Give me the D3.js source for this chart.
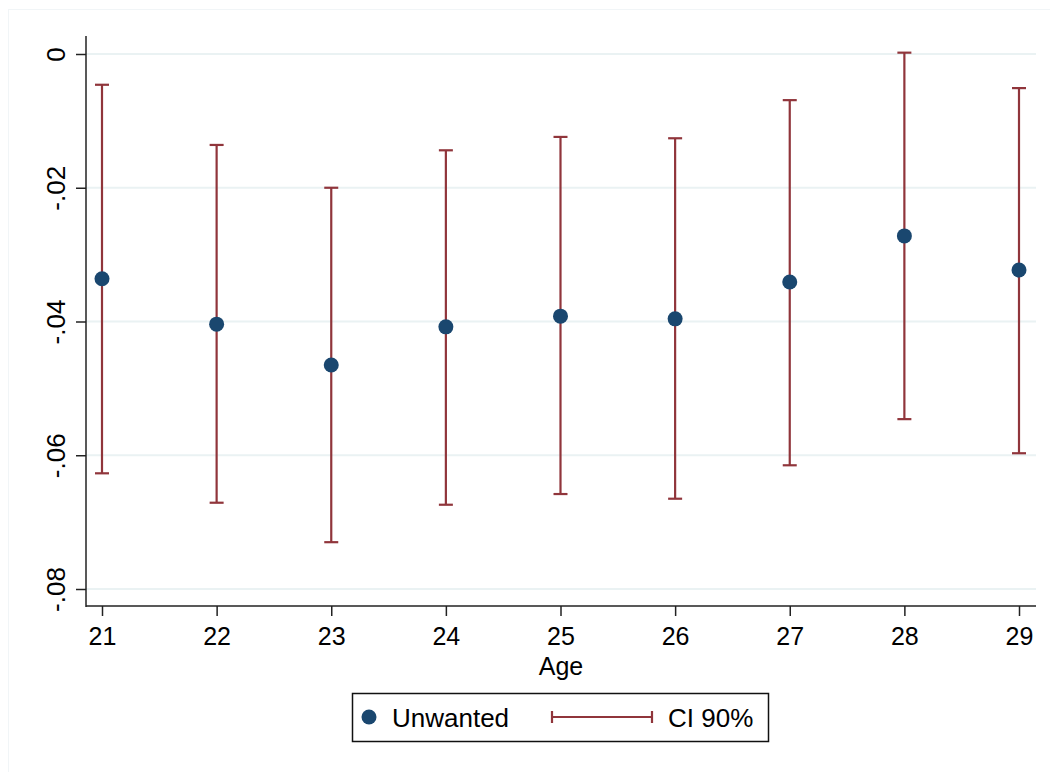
<!DOCTYPE html>
<html><head><meta charset="utf-8">
<script src="https://cdn.jsdelivr.net/npm/d3@7"></script>
<style>body{margin:0;background:#fff;}svg{display:block;font-family:Arial,"Liberation Sans",sans-serif;}</style>
</head><body>
<svg id="c" width="1050" height="772"></svg>
<script>
const ages = [21,22,23,24,25,26,27,28,29];
const estimate = [-0.0336,-0.0404,-0.0465,-0.0408,-0.0392,-0.0396,-0.0341,-0.0272,-0.0323];
const ciLow = [-0.0627,-0.0671,-0.0730,-0.0674,-0.0658,-0.0665,-0.0615,-0.0546,-0.0597];
const ciHigh = [-0.0046,-0.0136,-0.0200,-0.0144,-0.0124,-0.0126,-0.0069,0.0002,-0.0051];
const yTicks = [0,-0.02,-0.04,-0.06,-0.08];
const yTickLabels = ["0","-.02","-.04","-.06","-.08"];
const legendLabels = ["Unwanted","CI 90%"];

const svg = d3.select("#c");
const navy = "#1a476f", red = "#90353b", grid = "#eaf2f3";
const x = d3.scaleLinear().domain([21,29]).range([102,1019]);
const y = d3.scaleLinear().domain([0,-0.08]).range([54,589]);
const L = 86, R = 1036, T = 36, B = 606;

// faint outer frame (top and left edges visible)
svg.append("line").attr("x1",8).attr("x2",1050).attr("y1",9.5).attr("y2",9.5).attr("stroke","#f1f5f7");
svg.append("line").attr("x1",8.5).attr("x2",8.5).attr("y1",9).attr("y2",772).attr("stroke","#f1f5f7");

// grid
svg.append("g").selectAll("line").data(yTicks).join("line")
  .attr("x1",L).attr("x2",R).attr("y1",d=>y(d)).attr("y2",d=>y(d))
  .attr("stroke",grid).attr("stroke-width",2);

// y axis
const yAxis = d3.axisLeft(y).tickValues(yTicks).tickSize(10).tickPadding(0)
  .tickFormat((d,i)=>yTickLabels[i]);
const gy = svg.append("g").attr("transform",`translate(${L},0)`).call(yAxis);
gy.select(".domain").remove();
gy.selectAll(".tick line").attr("stroke","#222").attr("stroke-width",1.5);
gy.selectAll(".tick text").attr("fill","#000").style("font-size","26px")
  .attr("x",0).attr("dy",0).attr("text-anchor","middle")
  .attr("transform","translate(-21,0) rotate(-90)");
svg.append("line").attr("x1",L).attr("x2",L).attr("y1",T).attr("y2",B+1)
  .attr("stroke","#222").attr("stroke-width",1.5);

// x axis
const xAxis = d3.axisBottom(x).tickValues(ages).tickSize(10).tickPadding(11).tickFormat(d3.format("d"));
const gx = svg.append("g").attr("transform",`translate(0,${B})`).call(xAxis);
gx.select(".domain").remove();
gx.selectAll(".tick line").attr("stroke","#222").attr("stroke-width",1.5);
gx.selectAll(".tick text").attr("fill","#000").style("font-size","25px");
svg.append("line").attr("x1",L).attr("x2",R).attr("y1",B).attr("y2",B)
  .attr("stroke","#222").attr("stroke-width",1.5);

svg.append("text").attr("x",561).attr("y",675).attr("text-anchor","middle")
  .style("font-size","25px").text("Age");

// CIs
const ci = svg.append("g").attr("stroke",red).attr("stroke-width",2.2);
ages.forEach((a,i)=>{
  ci.append("line").attr("x1",x(a)).attr("x2",x(a)).attr("y1",y(ciHigh[i])).attr("y2",y(ciLow[i]));
  ci.append("line").attr("x1",x(a)-7).attr("x2",x(a)+7).attr("y1",y(ciHigh[i])).attr("y2",y(ciHigh[i]));
  ci.append("line").attr("x1",x(a)-7).attr("x2",x(a)+7).attr("y1",y(ciLow[i])).attr("y2",y(ciLow[i]));
});
svg.append("g").selectAll("circle").data(ages).join("circle")
  .attr("cx",d=>x(d)).attr("cy",(d,i)=>y(estimate[i])).attr("r",7.5).attr("fill",navy);

// legend
const lg = svg.append("g");
lg.append("rect").attr("x",352.5).attr("y",693.5).attr("width",416).attr("height",48)
  .attr("fill","#fff").attr("stroke","#111").attr("stroke-width",1.5);
lg.append("circle").attr("cx",369).attr("cy",717).attr("r",7.5).attr("fill",navy);
lg.append("text").attr("x",392).attr("y",727).style("font-size","26px").text(legendLabels[0]);
lg.append("line").attr("x1",552).attr("x2",652).attr("y1",717).attr("y2",717).attr("stroke",red).attr("stroke-width",2.2);
lg.append("line").attr("x1",552).attr("x2",552).attr("y1",711).attr("y2",723).attr("stroke",red).attr("stroke-width",2.2);
lg.append("line").attr("x1",652).attr("x2",652).attr("y1",711).attr("y2",723).attr("stroke",red).attr("stroke-width",2.2);
lg.append("text").attr("x",668).attr("y",727).style("font-size","26px").text(legendLabels[1]);
</script>
</body></html>
